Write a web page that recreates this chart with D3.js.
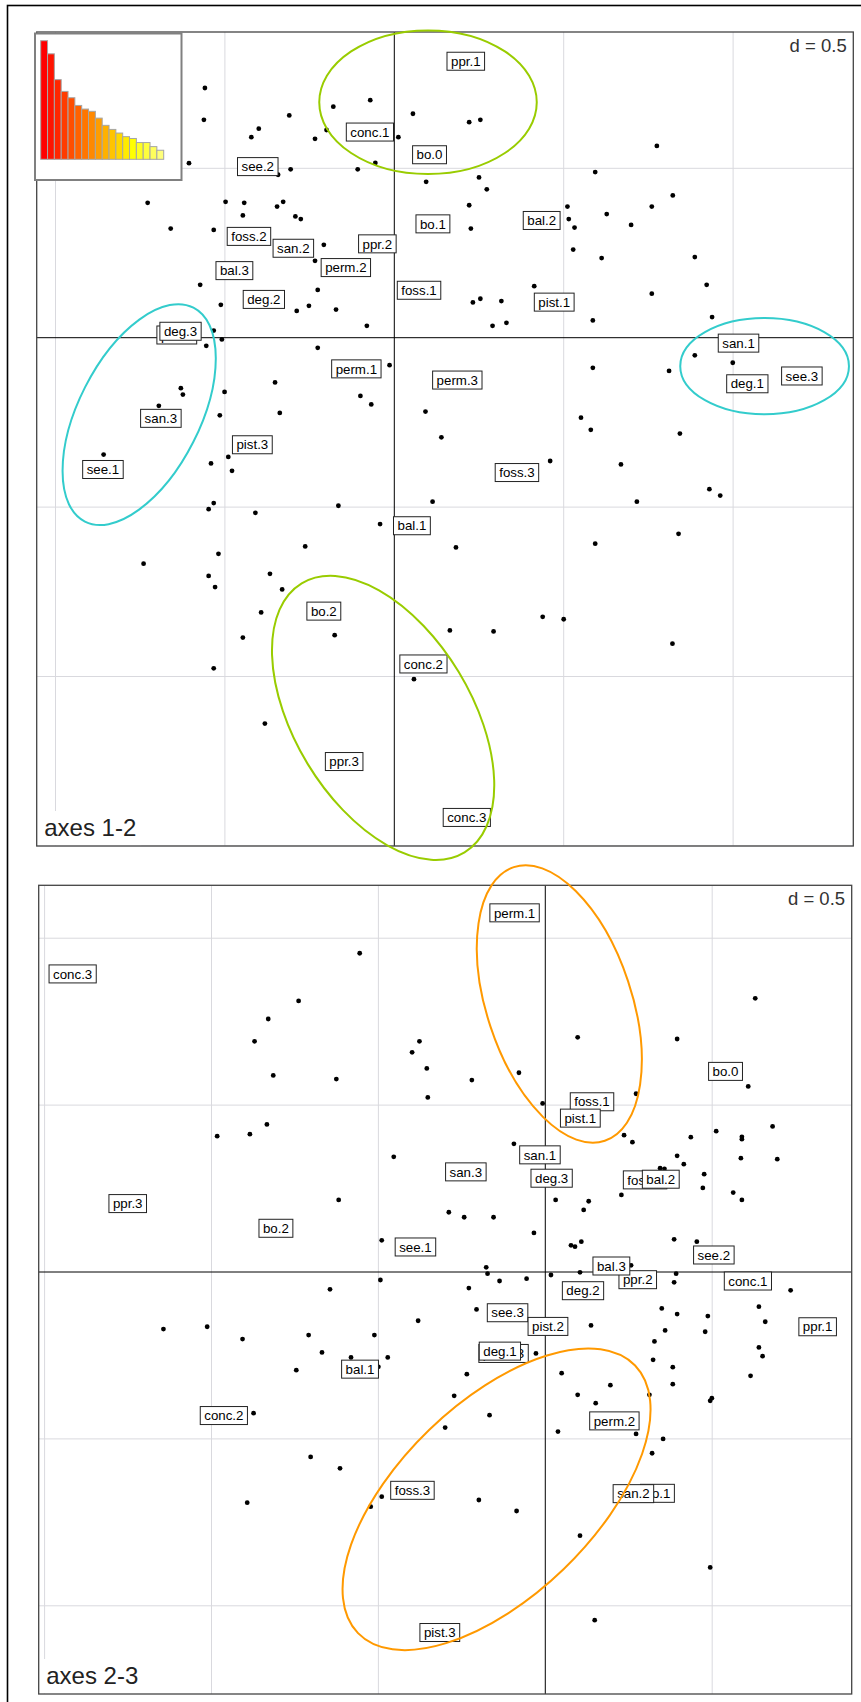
<!DOCTYPE html>
<html><head><meta charset="utf-8">
<script src="https://cdn.jsdelivr.net/npm/d3@7"></script>
<style>
body{margin:0;background:#fff}
svg{display:block}
text{font-family:"Liberation Sans",Arial,sans-serif}
</style>
</head><body>
<svg id="chart" width="861" height="1702"></svg>
<script>
// ---------------- DATA ----------------
const eigenvalues = [0.262,0.233,0.176,0.150,0.136,0.119,0.111,0.106,0.091,0.075,0.066,0.058,0.050,0.046,0.037,0.037,0.028,0.020];

const categories = ["bo.0","bo.1","bo.2","conc.1","conc.2","conc.3","ppr.1","ppr.2","ppr.3",
  "see.1","see.2","see.3","foss.1","foss.2","foss.3","perm.1","perm.2","perm.3",
  "pist.1","pist.2","pist.3","san.1","san.2","san.3","bal.1","bal.2","bal.3","deg.1","deg.2","deg.3"];
const catAxis1 = [0.104,0.114,-0.208,-0.072,0.086,0.214,0.211,-0.050,-0.148,
  -0.860,-0.403,1.203,0.073,-0.429,0.362,-0.112,-0.143,0.186,
  0.472,-0.642,-0.419,1.016,-0.298,-0.689,0.052,0.435,-0.472,1.042,-0.385,-0.631];
const catAxis2 = [0.540,0.336,-0.807,0.607,-0.963,-1.416,0.816,0.277,-1.251,
  -0.389,0.505,-0.113,0.140,0.299,-0.398,-0.092,0.207,-0.125,
  0.105,0.008,-0.316,-0.016,0.264,-0.238,-0.555,0.346,0.198,-0.136,0.113,0.019];
const catAxis3 = [0.601,-0.663,0.131,-0.027,-0.430,0.893,-0.164,-0.023,0.205,
  0.075,0.051,-0.122,0.510,0.276,-0.654,1.076,-0.446,-0.244,
  0.461,-0.163,-1.080,0.351,-0.664,0.300,-0.291,0.278,0.018,-0.237,-0.056,0.281];

// individuals on axes 1-2
const rowsAxes12 = [[-0.559,0.737],[-0.562,0.643],[-0.310,0.656],[-0.400,0.617],[-0.422,0.592],[-0.180,0.682],[-0.071,0.701],[-0.200,0.613],[-0.234,0.587],[0.055,0.661],[0.012,0.592],[-0.056,0.516],[-0.606,0.515],[-0.306,0.497],[-0.108,0.497],[-0.343,0.481],[0.094,0.460],[-0.728,0.398],[-0.498,0.401],[-0.443,0.398],[-0.346,0.387],[-0.328,0.401],[-0.447,0.361],[-0.292,0.358],[-0.276,0.350],[-0.660,0.322],[-0.533,0.318],[-0.208,0.274],[-0.234,0.227],[-0.573,0.156],[-0.226,0.141],[-0.512,0.097],[-0.288,0.079],[-0.252,0.094],[-0.172,0.083],[-0.081,0.035],[-0.533,0.021],[-0.509,-0.005],[-0.555,-0.024],[-0.226,-0.030],[-0.014,-0.081],[-0.352,-0.132],[-0.501,-0.160],[-0.630,-0.149],[-0.624,-0.168],[-0.695,-0.201],[-0.100,-0.172],[-0.068,-0.197],[-0.515,-0.229],[-0.338,-0.222],[0.092,-0.218],
[0.221,0.636],[0.254,0.643],[0.775,0.566],[0.250,0.473],[0.273,0.438],[0.593,0.489],[0.221,0.391],[0.226,0.322],[0.511,0.387],[0.515,0.350],[0.532,0.325],[0.627,0.365],[0.699,0.333],[0.760,0.387],[0.822,0.420],[0.528,0.260],[0.612,0.235],[0.887,0.238],[0.922,0.156],[0.413,0.152],[0.232,0.104],[0.254,0.115],[0.316,0.108],[0.290,0.035],[0.331,0.044],[0.760,0.130],[0.586,0.051],[0.938,0.061],[0.887,-0.052],[0.999,-0.074],[0.586,-0.089],[0.811,-0.098],[0.551,-0.236],[0.580,-0.272],[0.843,-0.283],[0.139,-0.294],
[-0.858,-0.345],[-0.541,-0.371],[-0.490,-0.352],[-0.479,-0.393],[-0.533,-0.488],[-0.548,-0.506],[-0.410,-0.517],[-0.165,-0.496],[-0.042,-0.550],[0.113,-0.484],[-0.740,-0.667],[-0.519,-0.638],[-0.263,-0.616],[-0.548,-0.703],[-0.529,-0.736],[-0.367,-0.697],[-0.331,-0.743],[-0.393,-0.811],[-0.447,-0.885],[-0.176,-0.878],[-0.533,-0.976],[0.058,-1.008],[-0.382,-1.139],
[0.460,-0.364],[0.669,-0.374],[0.930,-0.447],[0.962,-0.466],[0.716,-0.484],[0.182,-0.619],[0.593,-0.608],[0.839,-0.579],[0.438,-0.824],[0.500,-0.831],[0.164,-0.864],[0.293,-0.867],[0.821,-0.903]];

// individuals on axes 2-3
const rowsAxes23 = [[-0.556,0.955],[-0.739,0.812],[-0.830,0.758],[-0.871,0.691],[-0.815,0.589],[-0.626,0.578],[-0.377,0.691],[-0.399,0.658],[-0.355,0.610],[-0.352,0.523],[-0.834,0.442],[-0.885,0.413],[-0.983,0.407],[-0.454,0.345],[-0.619,0.216],[-0.490,0.095],[-0.494,-0.024],[-0.645,-0.052],
[0.629,0.820],[0.097,0.703],[0.395,0.698],[-0.079,0.597],[-0.220,0.575],[0.608,0.556],[0.272,0.534],[-0.008,0.505],[0.236,0.410],[0.261,0.389],[0.436,0.404],[0.512,0.422],[0.589,0.405],[0.589,0.398],[0.681,0.436],[-0.094,0.384],[0.395,0.348],[0.415,0.323],[0.586,0.341],[0.695,0.338],[0.344,0.311],[0.357,0.309],[0.476,0.293],[0.472,0.252],[0.563,0.238],[0.589,0.216],[0.228,0.231],[0.031,0.216],[0.130,0.212],[0.115,0.186],[-0.289,0.179],[-0.243,0.164],[-0.155,0.164],[-0.034,0.117],[0.077,0.080],[0.089,0.076],[0.108,0.091],[0.386,0.098],[0.454,0.091],[-0.177,0.014],[-0.173,-0.005],[-0.137,-0.027],[-0.056,-0.020],[0.017,-0.009],[0.104,-0.001],[0.257,0.020],[0.392,-0.005],[0.386,-0.031],[-0.229,-0.048],[0.735,-0.055],
[-0.206,-0.112],[0.137,-0.160],[-0.028,-0.244],[0.349,-0.109],[0.395,-0.126],[0.487,-0.132],[0.359,-0.175],[0.479,-0.179],[0.640,-0.104],[0.659,-0.149],[0.640,-0.226],[0.651,-0.252],[0.615,-0.311],[0.327,-0.208],[0.323,-0.263],[0.382,-0.285],[0.382,-0.336],[0.312,-0.368],[0.499,-0.378],[0.494,-0.386],[0.049,-0.303],[0.195,-0.339],[0.097,-0.368],[0.151,-0.393],[0.038,-0.478],[0.272,-0.485],[0.353,-0.500],[0.320,-0.543],[-0.235,-0.306],[-0.273,-0.371],[-0.167,-0.429],[-0.300,-0.466],[-0.199,-0.683],[-0.086,-0.716],[0.104,-0.790],[0.494,-0.885],[0.148,-1.043],
[-1.144,-0.171],[-1.013,-0.164],[-0.907,-0.201],[-0.709,-0.189],[-0.512,-0.189],[-0.669,-0.241],[-0.582,-0.256],[-0.472,-0.256],[-0.746,-0.294],[-0.500,-0.284],[-0.381,-0.146],[-0.874,-0.423],[-0.703,-0.554],[-0.615,-0.588],[-0.893,-0.691],[-0.490,-0.673],[-0.523,-0.703]];

// highlighted groups (centre, semi-axes in data units, rotation in degrees counter-clockwise)
const ellipsesAxes12 = [
  {group:"A", cx:0.0995, cy:0.695, a:0.321, b:0.212, angle:0},
  {group:"B", cx:-0.753, cy:-0.227, a:0.354, b:0.179, angle:63.1},
  {group:"B", cx:1.093, cy:-0.084, a:0.249, b:0.142, angle:0},
  {group:"A", cx:-0.033, cy:-1.122, a:0.464, b:0.261, angle:-58.8}
];
const ellipsesAxes23 = [
  {group:"C", cx:0.042, cy:0.803, a:0.432, b:0.217, angle:-71.6},
  {group:"C", cx:-0.146, cy:-0.681, a:0.577, b:0.290, angle:44}
];

// ---------------- STYLE / LAYOUT ----------------
const groupColor = {A:"#99cc00", B:"#33cccc", C:"#ff9900"};
const svg = d3.select("#chart");

svg.append("rect").attr("x",7.5).attr("y",5.5).attr("width",900).attr("height",1750)
  .attr("fill","none").attr("stroke","#000").attr("stroke-width",1.6);

function drawPanel(opts){
  const {x0,x1,y0,y1,xDom,yDom,rows,cx,cy,ellipses,title} = opts;
  const x = d3.scaleLinear().domain(xDom).range([x0,x1]);
  const y = d3.scaleLinear().domain(yDom).range([y0,y1]);
  const g = svg.append("g");
  g.append("rect").attr("x",x0).attr("y",y0).attr("width",x1-x0).attr("height",y1-y0).attr("fill","#fff");

  const gridVals = d3.range(-3,3.001,0.5).filter(v=>Math.abs(v)>1e-9);
  const xs = gridVals.filter(v=>v>xDom[0] && v<xDom[1]);
  const ys = gridVals.filter(v=>v<yDom[0] && v>yDom[1]);
  g.selectAll(".gx").data(xs).join("line")
    .attr("x1",d=>x(d)).attr("x2",d=>x(d)).attr("y1",y0).attr("y2",y1)
    .attr("stroke","#d9d9de").attr("stroke-width",1);
  g.selectAll(".gy").data(ys).join("line")
    .attr("y1",d=>y(d)).attr("y2",d=>y(d)).attr("x1",x0).attr("x2",x1)
    .attr("stroke","#d9d9de").attr("stroke-width",1);
  g.append("line").attr("x1",x(0)).attr("x2",x(0)).attr("y1",y0).attr("y2",y1).attr("stroke","#000").attr("stroke-width",1);
  g.append("line").attr("y1",y(0)).attr("y2",y(0)).attr("x1",x0).attr("x2",x1).attr("stroke","#000").attr("stroke-width",1);

  g.selectAll(".pt").data(rows).join("circle")
    .attr("cx",d=>x(d[0])).attr("cy",d=>y(d[1])).attr("r",2.4).attr("fill","#000");

  categories.forEach((name,i)=>{
    const px = x(cx[i]), py = y(cy[i]);
    const lg = g.append("g");
    const r = lg.append("rect");
    const t = lg.append("text").attr("x",px).attr("y",py+4.7).attr("text-anchor","middle")
      .attr("font-size",13.3).attr("fill","#000").text(name);
    const w = t.node().getComputedTextLength()+8;
    r.attr("x",px-w/2).attr("y",py-9).attr("width",w).attr("height",18)
      .attr("fill","#fff").attr("stroke","#222").attr("stroke-width",1);
  });

  g.append("rect").attr("x",x0+0.5).attr("y",y1-35).attr("width",104).attr("height",34.5).attr("fill","#fff");
  g.append("text").attr("x",x0+7.5).attr("y",y1-9.8).attr("font-size",24).attr("fill","#222").text(title);
  g.append("text").attr("x",x1-6.6).attr("y",y0+19.8).attr("text-anchor","end")
    .attr("font-size",18.5).attr("fill","#333").text("d = 0.5");

  g.append("rect").attr("x",x0).attr("y",y0).attr("width",x1-x0).attr("height",y1-y0)
    .attr("fill","none").attr("stroke","#444").attr("stroke-width",1.3);

  const sx = (x1-x0)/(xDom[1]-xDom[0]);
  const sy = (y1-y0)/(yDom[0]-yDom[1]);
  g.selectAll(".el").data(ellipses).join("ellipse")
    .attr("transform",d=>`translate(${x(d.cx)},${y(d.cy)}) rotate(${-d.angle})`)
    .attr("rx",d=>d.a*sx).attr("ry",d=>d.b*sy)
    .attr("fill","none").attr("stroke",d=>groupColor[d.group]).attr("stroke-width",2);
  return g;
}

drawPanel({x0:36.7,x1:853.3,y0:32,y1:846,xDom:[-1.0555,1.3548],yDom:[0.9023,-1.5003],
  rows:rowsAxes12,cx:catAxis1,cy:catAxis2,ellipses:ellipsesAxes12,title:"axes 1-2"});
drawPanel({x0:38.7,x1:851.7,y0:885.3,y1:1694,xDom:[-1.5177,0.918],yDom:[1.1585,-1.2642],
  rows:rowsAxes23,cx:catAxis2,cy:catAxis3,ellipses:ellipsesAxes23,title:"axes 2-3"});

// eigenvalue inset (heat colours)
const inset = svg.append("g");
inset.append("rect").attr("x",35).attr("y",33.5).attr("width",146.5).attr("height",146.5)
  .attr("fill","#fff").attr("stroke","#808080").attr("stroke-width",2);
const xb = d3.scaleBand().domain(d3.range(eigenvalues.length)).range([40.7,163.7]).padding(0);
const yb = d3.scaleLinear().domain([0,d3.max(eigenvalues)]).range([159.3,40.7]);
const nC = eigenvalues.length, jC = Math.floor(nC/4), iC = nC-jC;
const heat = d3.range(nC).map(k=>{
  if(k<iC){ const h = (k/(iC-1))*60; return d3.hsl(h,1,0.5).formatHex(); }
  const s = 1-(k-iC+1)*0.12;
  return d3.rgb(255,255,Math.round(255*(1-s))).formatHex();
});
inset.selectAll(".bar").data(eigenvalues).join("rect")
  .attr("x",(d,i)=>xb(i)).attr("width",xb.bandwidth()).attr("y",d=>yb(d)).attr("height",d=>yb(0)-yb(d))
  .attr("fill",(d,i)=>heat[i]).attr("stroke","#a6a6a6").attr("stroke-width",1);
</script>
</body></html>
